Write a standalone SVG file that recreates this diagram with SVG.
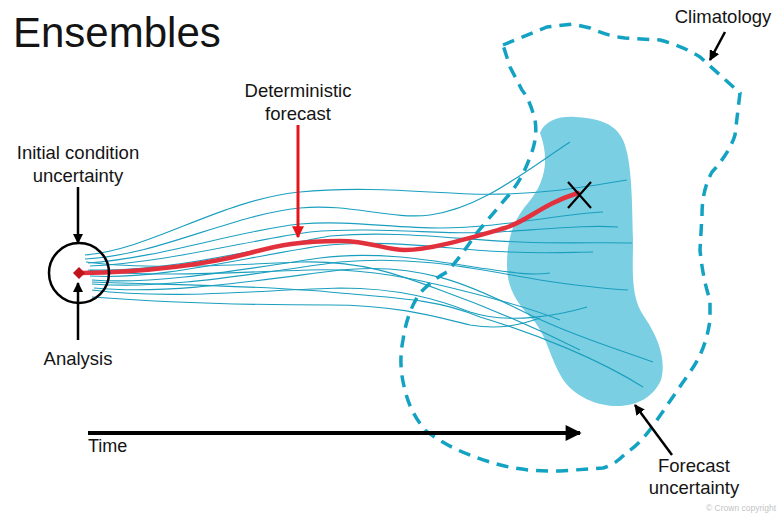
<svg xmlns="http://www.w3.org/2000/svg" width="778" height="516" viewBox="0 0 778 516">
<style>
text{font-family:"Liberation Sans",Arial,sans-serif;fill:#141414}
.lbl{font-size:18.5px;text-anchor:middle}
.ens{fill:none;stroke:#1b9fbf;stroke-width:1.1}
.arr{stroke:#000;stroke-width:2.5;fill:none}
</style>
<defs>
<marker id="ah" viewBox="0 0 10 10" refX="9" refY="5" markerWidth="4.2" markerHeight="4.2" orient="auto" markerUnits="strokeWidth"><path d="M0,0L10,5L0,10Z" fill="#000"/></marker>
<marker id="ahr" viewBox="0 0 10 10" refX="9" refY="5" markerWidth="4.5" markerHeight="4" orient="auto" markerUnits="strokeWidth"><path d="M0,0L10,5L0,10Z" fill="#e8141c"/></marker>
<marker id="aht" viewBox="0 0 10 10" refX="9" refY="5" markerWidth="5" markerHeight="4" orient="auto" markerUnits="strokeWidth"><path d="M0,0L10,5L0,10Z" fill="#000"/></marker>
</defs>
<rect width="778" height="516" fill="#fff"/>
<g id="title"><text x="13" y="47" style="font-size:42px">Ensembles</text></g>
<g id="forecast-uncertainty-area"><path d="M540,133 C545,120 560,116 575,117 C595,118 615,122 623,140 C632,160 632,200 633,240 C633,270 630,298 645,318 C660,340 666,362 661,380 C653,398 637,405 620,406 C600,407 575,398 562,378 C550,358 548,340 535,322 C518,305 507,290 507,265 C507,240 513,220 528,203 C545,183 550,160 540,133 Z" fill="#7bcfe3"/></g>
<g id="climatology-area"><path d="M503,45 L547,27 L573,24 L590,28 Q607,36 625,38 L660,40 Q685,47 700,57 L740,93 L735,135 Q730,152 712,172 Q702,190 702,215 L700,250 Q703,280 710,300 L710,320 Q706,350 690,372 L657,420 Q640,445 627,452 Q615,465 603,468 L560,471 Q520,472 490,462 Q450,450 425,430 Q410,412 405,390 Q398,365 403,340 Q407,312 420,293 Q432,280 447,272 Q462,255 475,235 L507,197 Q522,180 530,157 Q538,138 535,120 Q530,100 522,90 L510,67 Z" fill="none" stroke="#13a2c2" stroke-width="3.5" stroke-dasharray="12 8"/></g>
<g id="ensemble-members">
<path class="ens" d="M85,255 C150,250 220,200 300,192 C360,186 420,192 470,194 C530,196 580,188 627,180"/>
<path class="ens" d="M85,259 C160,255 230,215 300,208 C350,203 390,220 430,215 C480,208 520,175 570,142"/>
<path class="ens" d="M88,263 C160,258 240,230 300,224 C350,220 390,228 440,228 C500,228 560,214 603,212"/>
<path class="ens" d="M90,266 C170,262 250,240 310,232 C380,226 450,236 500,232 C560,228 590,225 618,227"/>
<path class="ens" d="M90,270 C170,272 250,250 330,236 C400,230 460,240 520,242 C570,244 600,242 632,243"/>
<path class="ens" d="M90,276 C160,280 240,258 320,246 C390,238 450,250 510,252 C550,254 575,252 593,252"/>
<path class="ens" d="M92,280 C160,285 250,268 320,258 C380,250 440,262 480,268 C510,272 530,276 550,273"/>
<path class="ens" d="M92,284 C170,290 260,272 340,262 C420,255 480,270 540,280 C580,286 610,289 628,290"/>
<path class="ens" d="M94,288 C170,295 260,280 340,270 C420,262 470,285 520,310 C570,335 620,350 653,362"/>
<path class="ens" d="M92,282 C170,285 260,285 340,293 C400,298 440,300 480,317 C540,335 600,360 643,387"/>
<path class="ens" d="M92,290 C170,300 260,290 340,288 C400,288 440,300 470,312 C510,325 560,315 587,307"/>
<path class="ens" d="M92,297 C170,303 250,305 330,305 C400,305 440,318 470,325 C500,330 520,325 540,318"/>
<path class="ens" d="M86,262 C150,270 230,265 300,262 C360,260 400,275 440,290 C490,308 540,330 580,350"/>
<path class="ens" d="M88,270 C150,278 240,272 310,270 C370,268 420,280 460,290 C500,300 530,308 560,320"/>
</g>
<g id="deterministic-track"><path d="M80,273 C140,272 200,266 250,253 C280,245 300,241 340,241 C370,241 385,250 405,250 C430,250 470,238 505,228 C530,220 540,205 578,193" fill="none" stroke="#e2303d" stroke-width="4.5" stroke-linecap="round"/></g>
<g id="initial-condition">
<circle cx="79" cy="273" r="30" fill="none" stroke="#000" stroke-width="2.5"/>
<path d="M79,267 L85,273 L79,279 L73,273 Z" fill="#c0141c"/>
<text class="lbl" x="78" y="159">Initial condition</text>
<text class="lbl" x="78" y="182">uncertainty</text>
</g>
<g id="analysis"><text class="lbl" x="78" y="365">Analysis</text></g>
<g id="deterministic-forecast"><text class="lbl" x="298" y="97">Deterministic</text><text class="lbl" x="298" y="120">forecast</text></g>
<g id="end-point"><path d="M568,182 L591,208 M591,182 L568,208" stroke="#000" stroke-width="2.2" fill="none"/></g>
<g id="climatology"><text class="lbl" x="723" y="23">Climatology</text></g>
<g id="forecast-uncertainty"><text class="lbl" x="694" y="472">Forecast</text><text class="lbl" x="694" y="494">uncertainty</text></g>
<g id="time"><text x="88" y="452" style="font-size:18px">Time</text></g>
<g id="copyright"><text x="776" y="511" style="font-size:8.5px;fill:#c4c4c4;text-anchor:end">© Crown copyright</text></g>
<g id="connectors">
<line class="arr" x1="78" y1="187" x2="78" y2="243" marker-end="url(#ah)"/>
<line class="arr" x1="78" y1="340" x2="78" y2="283" marker-end="url(#ah)"/>
<line x1="298" y1="125" x2="298" y2="237" stroke="#e8141c" stroke-width="3" marker-end="url(#ahr)"/>
<line class="arr" x1="725" y1="32" x2="710" y2="60" marker-end="url(#ah)"/>
<line class="arr" x1="672" y1="455" x2="635" y2="405" marker-end="url(#ah)"/>
<line x1="88" y1="433" x2="580" y2="433" stroke="#000" stroke-width="4" marker-end="url(#aht)"/>
</g>
</svg>
